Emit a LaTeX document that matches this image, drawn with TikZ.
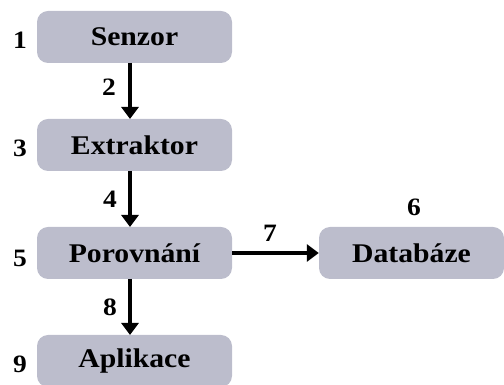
\documentclass[tikz,border=0pt]{standalone}
\usepackage{fontspec}
\setmainfont[FakeStretch=1.1]{Liberation Serif}
\usetikzlibrary{arrows.meta}
\definecolor{boxfill}{RGB}{188,189,204}
\begin{document}
\begin{tikzpicture}[x=1pt,y=1pt,
  blk/.style={fill=boxfill,rounded corners=11pt,minimum width=195pt,minimum height=52pt,inner sep=0pt,font=\fontsize{27}{30}\selectfont\bfseries},
  num/.style={font=\fontsize{25}{28}\selectfont\bfseries,inner sep=0pt},
  arr/.style={line width=4.5pt,-{Triangle[length=12pt,width=17pt]}}]
\useasboundingbox (0,0) rectangle (504,385);
\node[blk] (senzor) at (134.5,348) {Senzor};
\node[blk] (extr) at (134.5,240) {Extraktor};
\node[blk] (por) at (134.5,132) {Porovnání};
\node[blk] (apl) at (134.5,24) {Aplikace};
\node[blk,minimum width=185pt] (db) at (411.5,132) {Databáze};
\node[num] (n1) at (20,345) {1};
\node[num] (n3) at (20,237) {3};
\node[num] (n5) at (20,127) {5};
\node[num] (n9) at (20,21) {9};
\node[num] (n6) at (414,178) {6};
\coordinate (a1) at (130,322);
\coordinate (a2) at (130,266);
\coordinate (b1) at (130,214);
\coordinate (b2) at (130,158);
\coordinate (c1) at (130,106);
\coordinate (c2) at (130,50);
\node[num] (n2) at (109,298) {2};
\node[num] (n4) at (110,186) {4};
\node[num] (n8) at (110,78) {8};
\node[num] (n7) at (270,152) {7};
\draw[arr] (a1) -- (a2);
\draw[arr] (b1) -- (b2);
\draw[arr] (c1) -- (c2);
\draw[arr] (por.east) -- (db.west);
\end{tikzpicture}
\end{document}
